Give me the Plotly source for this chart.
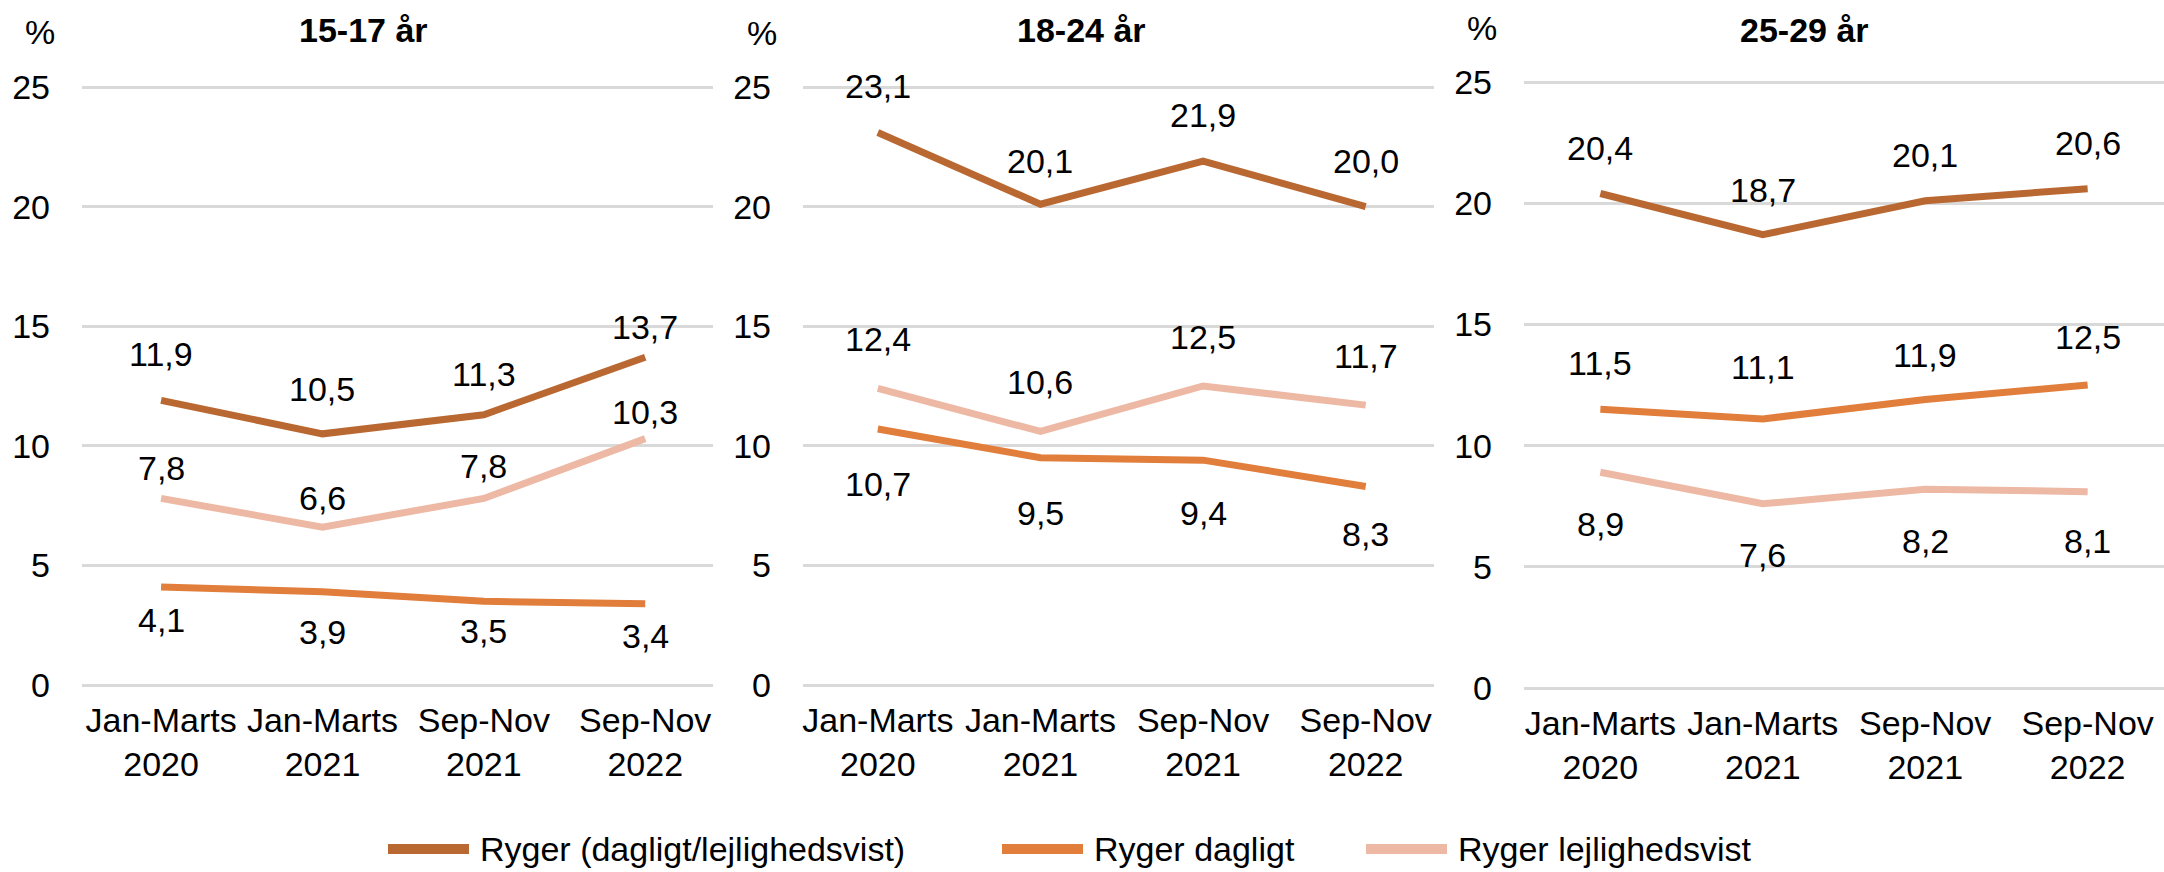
import plotly.graph_objects as go

W, H = 2164, 872

# ---------------- data ----------------
categories = ["Jan-Marts<br>2020", "Jan-Marts<br>2021", "Sep-Nov<br>2021", "Sep-Nov<br>2022"]
panel_titles = ["15-17 år", "18-24 år", "25-29 år"]
series_names = ["Ryger (dagligt/lejlighedsvist)", "Ryger dagligt", "Ryger lejlighedsvist"]

total_15_17 = [11.9, 10.5, 11.3, 13.7]
daily_15_17 = [4.1, 3.9, 3.5, 3.4]
occasional_15_17 = [7.8, 6.6, 7.8, 10.3]

total_18_24 = [23.1, 20.1, 21.9, 20.0]
daily_18_24 = [10.7, 9.5, 9.4, 8.3]
occasional_18_24 = [12.4, 10.6, 12.5, 11.7]

total_25_29 = [20.4, 18.7, 20.1, 20.6]
daily_25_29 = [11.5, 11.1, 11.9, 12.5]
occasional_25_29 = [8.9, 7.6, 8.2, 8.1]

y_ticks = [0, 5, 10, 15, 20, 25]
unit_label = "%"

panel_data = [
    [total_15_17, daily_15_17, occasional_15_17],
    [total_18_24, daily_18_24, occasional_18_24],
    [total_25_29, daily_25_29, occasional_25_29],
]

# ---------------- style ----------------
colors = ["#BA6832", "#E17E3B", "#EDB9A5"]
FONT = "Liberation Sans, Arial, Helvetica, sans-serif"
FS = 34

# label vertical offsets (px), per panel, per series
label_shift = [
    [[46, 45, 41, 30], [-33, -40, -30, -32], [30, 29, 32, 27]],
    [[46, 43, 46, 46], [-55, -55, -53, -48], [49, 49, 49, 49]],
    [[45, 45, 46, 46], [46, 52, 45, 48], [-52, -51, -52, -49]],
]

# panel geometry in pixels: x0, x1, y of 25, y of 0, category range
panels_px = [
    (82, 713, 87, 685, [-0.49, 3.42]),
    (803, 1434, 87, 685, [-0.46, 3.42]),
    (1524, 2164, 82, 688, [-0.47, 3.47]),
]
Y_PAD = 0.5  # value-axis padding so the 0 and 25 gridlines are drawn
title_pos = [(363, 30), (1081, 30), (1804, 30)]
unit_pos = [(40, 32), (762, 33), (1482, 28)]
legend_px = [(384, 473, 478), (998, 1087, 1092), (1362, 1451, 1456)]
legend_y = 849


def px_x(p):
    return p / W


def px_y(p):
    return 1 - p / H


fig = go.Figure()
annotations = []
shapes = []

for i, (series_list, geom) in enumerate(zip(panel_data, panels_px)):
    x0, x1, y25, y0, xr = geom
    ppu = (y0 - y25) / 25.0
    dom_bottom = y0 + Y_PAD * ppu
    dom_top = y25 - Y_PAD * ppu
    sfx = "" if i == 0 else str(i + 1)
    for j, vals in enumerate(series_list):
        fig.add_trace(go.Scatter(
            x=categories, y=vals, mode="lines", name=series_names[j],
            line=dict(color=colors[j], width=7),
            xaxis="x" + sfx, yaxis="y" + sfx, showlegend=False,
            hoverinfo="skip",
        ))
        for k, v in enumerate(vals):
            annotations.append(dict(
                x=categories[k], y=v, xref="x" + sfx, yref="y" + sfx,
                text=f"{v:.1f}".replace(".", ","), showarrow=False,
                yshift=label_shift[i][j][k], xanchor="center", yanchor="middle",
                font=dict(family=FONT, size=FS, color="#000000"),
            ))
    fig.update_layout(**{
        "xaxis" + sfx: dict(
            domain=[px_x(x0), px_x(x1)], anchor="y" + sfx, type="category",
            range=xr, showgrid=False, showline=False, zeroline=False,
            ticks="", tickfont=dict(family=FONT, size=FS, color="#000000"),
            ticklabelstandoff=0, fixedrange=True, automargin=False,
        ),
        "yaxis" + sfx: dict(
            domain=[px_y(dom_bottom), px_y(dom_top)], anchor="x" + sfx,
            range=[-Y_PAD, 25 + Y_PAD],
            tickvals=y_ticks, ticktext=[str(t) for t in y_ticks],
            showgrid=True, gridcolor="#D9D9D9", gridwidth=3,
            zeroline=False, showline=False, ticks="",
            tickfont=dict(family=FONT, size=FS, color="#000000"),
            ticklabelstandoff=31, fixedrange=True, automargin=False,
        ),
    })
    tx, ty = title_pos[i]
    annotations.append(dict(
        x=px_x(tx), y=px_y(ty), xref="paper", yref="paper",
        text="<b>" + panel_titles[i] + "</b>", showarrow=False,
        xanchor="center", yanchor="middle",
        font=dict(family=FONT, size=FS, color="#000000"),
    ))
    ux, uy = unit_pos[i]
    annotations.append(dict(
        x=px_x(ux), y=px_y(uy), xref="paper", yref="paper",
        text=unit_label, showarrow=False, xanchor="center", yanchor="middle",
        font=dict(family=FONT, size=FS, color="#000000"),
    ))

# manual legend
for j, (lx0, lx1, tx) in enumerate(legend_px):
    shapes.append(dict(
        type="line", xref="paper", yref="paper",
        x0=px_x(lx0 + 4), x1=px_x(lx1 - 4), y0=px_y(legend_y), y1=px_y(legend_y),
        line=dict(color=colors[j], width=10),
    ))
    annotations.append(dict(
        x=px_x(tx), y=px_y(legend_y), xref="paper", yref="paper",
        text=series_names[j], showarrow=False, xanchor="left", yanchor="middle",
        font=dict(family=FONT, size=FS, color="#000000"),
    ))

fig.update_layout(
    template="none",
    width=W, height=H,
    margin=dict(l=0, r=0, t=0, b=0, pad=0, autoexpand=False),
    paper_bgcolor="white", plot_bgcolor="white",
    showlegend=False,
    annotations=annotations, shapes=shapes,
    font=dict(family=FONT, size=FS, color="#000000"),
)

fig.write_html(
    "out.html",
    config={"displayModeBar": False},
    post_script="document.body.style.margin='0px';document.body.style.overflow='hidden';",
)
